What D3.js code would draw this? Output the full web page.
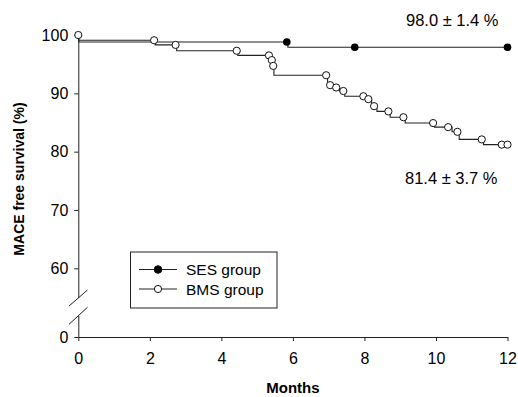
<!DOCTYPE html>
<html>
<head>
<meta charset="utf-8">
<script src="https://cdn.jsdelivr.net/npm/d3@7"></script>
<style>
	body { margin: 0; background: #fff; }
	text { font-family: "Liberation Sans", Arial, sans-serif; fill: #000; }
</style>
</head>
<body>
<div id="chart"></div>
<script>
// Kaplan-Meier data, months vs MACE free survival (%)
// step curves: level after each event time
const ses_times = [0, 0.01, 5.86];
const ses_surv = [100, 98.8, 97.9];
const ses_censor = [5.83, 7.73, 12.0];

const bms_times = [0, 0.01, 2.15, 2.75, 4.46, 5.36, 5.43, 5.47, 6.97, 7.12, 7.3, 7.45, 8.04, 8.2, 8.35, 8.72, 9.14, 9.96, 10.45, 10.65, 11.33];
const bms_surv = [100, 99.1, 98.3, 97.3, 96.5, 95.7, 94.7, 93.1, 91.4, 91.0, 90.4, 89.5, 89.0, 87.8, 86.9, 85.9, 84.9, 84.2, 83.4, 82.1, 81.2];
const bms_censor = [0, 2.12, 2.72, 4.43, 5.33, 5.41, 5.45, 6.93, 7.04, 7.21, 7.41, 7.97, 8.11, 8.27, 8.67, 9.09, 9.92, 10.34, 10.6, 11.28, 11.84, 12.0];

const x_ticks = [0, 2, 4, 6, 8, 10, 12];
const y_ticks = [0, 60, 70, 80, 90, 100];

const svg_width = 518;
const svg_height = 397;

const svg = d3
	.select("#chart")
	.append("svg")
	.attr("width", svg_width)
	.attr("height", svg_height);

const x = d3.scaleLinear().domain([0, 12]).range([78.3, 507.5]);
// broken y axis: 0 then 60..100
const y = d3.scaleLinear().domain([0, 60, 100]).range([337, 268.3, 35]);

const xAxis = svg
	.append("g")
	.attr("transform", "translate(0," + y(0) + ")")
	.call(
		d3.axisBottom(x).tickValues(x_ticks).tickSize(4).tickSizeOuter(0).tickPadding(12)
	);
const yAxis = svg
	.append("g")
	.attr("transform", "translate(" + x(0) + ",0)")
	.call(
		d3.axisLeft(y).tickValues(y_ticks).tickSize(4).tickSizeOuter(0).tickPadding(6)
	);
svg.selectAll(".tick text").attr("font-size", 16).style("font-family", "'Liberation Sans', Arial, sans-serif");
svg.selectAll(".domain, .tick line").attr("stroke", "#222").attr("stroke-width", 1);

// axis break
svg.append("rect")
	.attr("x", x(0) - 2)
	.attr("y", 298)
	.attr("width", 4)
	.attr("height", 18)
	.attr("fill", "#fff");
[[306, 290], [324.3, 307.3]].forEach(function (d) {
	svg.append("line")
		.attr("x1", 69).attr("y1", d[0])
		.attr("x2", 87.5).attr("y2", d[1])
		.attr("stroke", "#222")
		.attr("stroke-width", 1);
});

// step function helpers
function step_points(times, surv, end) {
	const pts = [[times[0], surv[0]]];
	for (let i = 1; i < times.length; i++) {
		pts.push([times[i], surv[i - 1]]);
		pts.push([times[i], surv[i]]);
	}
	pts.push([end, surv[surv.length - 1]]);
	return pts;
}
function surv_at(times, surv, t) {
	let v = surv[0];
	for (let i = 0; i < times.length; i++) {
		if (times[i] <= t) v = surv[i];
	}
	return v;
}

const line = d3
	.line()
	.x(function (d) { return x(d[0]); })
	.y(function (d) { return y(d[1]); });

svg.append("path")
	.datum(step_points(bms_times, bms_surv, 12))
	.attr("d", line)
	.attr("fill", "none")
	.attr("stroke", "#222")
	.attr("stroke-width", 1.1);
svg.append("path")
	.datum(step_points(ses_times, ses_surv, 12))
	.attr("d", line)
	.attr("fill", "none")
	.attr("stroke", "#222")
	.attr("stroke-width", 1.1);

svg.selectAll(".bms_dot")
	.data(bms_censor)
	.enter()
	.append("circle")
	.attr("class", "bms_dot")
	.attr("cx", function (d) { return x(d); })
	.attr("cy", function (d) { return d === 0 ? y(100) : y(surv_at(bms_times, bms_surv, d)); })
	.attr("r", 3.6)
	.attr("fill", "#fff")
	.attr("stroke", "#111")
	.attr("stroke-width", 1);

svg.selectAll(".ses_dot")
	.data(ses_censor)
	.enter()
	.append("circle")
	.attr("class", "ses_dot")
	.attr("cx", function (d) { return x(d); })
	.attr("cy", function (d) { return y(surv_at(ses_times, ses_surv, d)); })
	.attr("r", 3.8)
	.attr("fill", "#000");

// axis titles
svg.append("text")
	.attr("x", (x(0) + x(12)) / 2)
	.attr("y", 393)
	.attr("text-anchor", "middle")
	.attr("font-size", 15)
	.attr("font-weight", "bold")
	.text("Months");
svg.append("text")
	.attr("transform", "translate(24,179) rotate(-90)")
	.attr("text-anchor", "middle")
	.attr("font-size", 14)
	.attr("font-weight", "bold")
	.text("MACE free survival (%)");

// annotations
svg.append("text")
	.attr("x", 406)
	.attr("y", 25.7)
	.attr("font-size", 16.5)
	.text("98.0 ± 1.4 %");
svg.append("text")
	.attr("x", 405)
	.attr("y", 184)
	.attr("font-size", 16.5)
	.text("81.4 ± 3.7 %");

// legend
const legend_items = ["SES group", "BMS group"];
const legend_fill = ["#000", "#fff"];
svg.append("rect")
	.attr("x", 130.5)
	.attr("y", 252)
	.attr("width", 146.5)
	.attr("height", 56)
	.attr("fill", "#fff")
	.attr("stroke", "#222")
	.attr("stroke-width", 1);
legend_items.forEach(function (d, i) {
	const ly = 269.5 + i * 19.5;
	svg.append("line")
		.attr("x1", 139).attr("x2", 177)
		.attr("y1", ly).attr("y2", ly)
		.attr("stroke", "#222");
	svg.append("circle")
		.attr("cx", 158).attr("cy", ly)
		.attr("r", i === 0 ? 3.8 : 3.6)
		.attr("fill", legend_fill[i])
		.attr("stroke", "#111");
	svg.append("text")
		.attr("x", 186)
		.attr("y", ly + 5.5)
		.attr("font-size", 15.5)
		.text(d);
});
</script>
</body>
</html>
